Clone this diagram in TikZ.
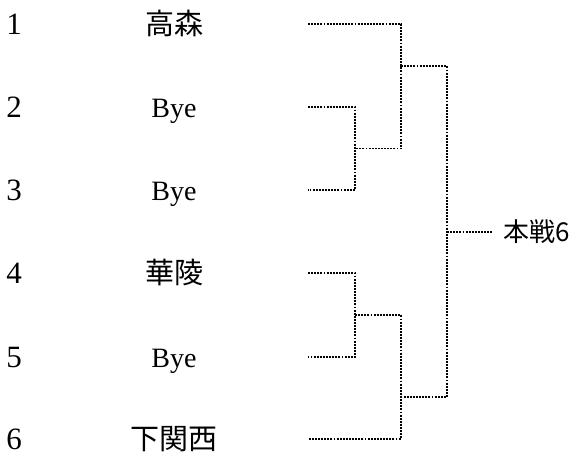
\documentclass[tikz,border=0pt]{standalone}
\usepackage{fontspec}
\setmainfont{Liberation Serif}
\newfontfamily\jpfont{Noto Sans CJK JP}
\begin{document}
\begin{tikzpicture}[x=1pt,y=1pt,
  bracket/.style={line width=1.9pt, dash pattern=on 1.9pt off 1.2pt},
  num/.style={anchor=base, inner sep=0pt, font=\fontsize{31}{33}\selectfont},
  team/.style={anchor=base, inner sep=0pt, font=\fontsize{28}{30}\selectfont},
  jpteam/.style={anchor=base, inner sep=0pt, font=\jpfont\fontsize{29}{31}\selectfont}]
\useasboundingbox (0,0) rectangle (582,-457);
% seeds
\node[num] (s1) at (14,-34.5) {1};
\node[num] (s2) at (14,-117.5) {2};
\node[num] (s3) at (14,-200.5) {3};
\node[num] (s4) at (14,-283.5) {4};
\node[num] (s5) at (14,-367.5) {5};
\node[num] (s6) at (14,-449.5) {6};
% teams
\node[jpteam] (t1) at (174,-35) {高森};
\node[team] (t2) at (174,-117.5) {Bye};
\node[team] (t3) at (174,-200.5) {Bye};
\node[jpteam] (t4) at (174,-284) {華陵};
\node[team] (t5) at (174,-367.5) {Bye};
\node[jpteam] (t6) at (174,-450) {下関西};
% leaf ends
\coordinate (l1) at (308,-24);
\coordinate (l2) at (308,-107);
\coordinate (l3) at (308,-190);
\coordinate (l4) at (308,-273);
\coordinate (l5) at (308,-357);
\coordinate (l6) at (308,-439);
% match points
\coordinate (A) at (355,-148.5);
\coordinate (B) at (401,-66);
\coordinate (C) at (355,-315);
\coordinate (D) at (401,-397);
\coordinate (F) at (447,-232);
% final label
\node[anchor=base west, inner sep=0pt, font=\jpfont\fontsize{26}{28}\selectfont] (final) at (503,-242) {本戦6};
\coordinate (out) at (493,-232);
% bracket lines
\draw[bracket] (l2) -| (A) |- (l3);
\draw[bracket] (l1) -| (B) |- (A);
\draw[bracket] (l4) -| (C) |- (l5);
\draw[bracket] (C) -| (D) |- (l6);
\draw[bracket] (B) -| (F) |- (D);
\draw[bracket] (F) -- (out);
\end{tikzpicture}
\end{document}
